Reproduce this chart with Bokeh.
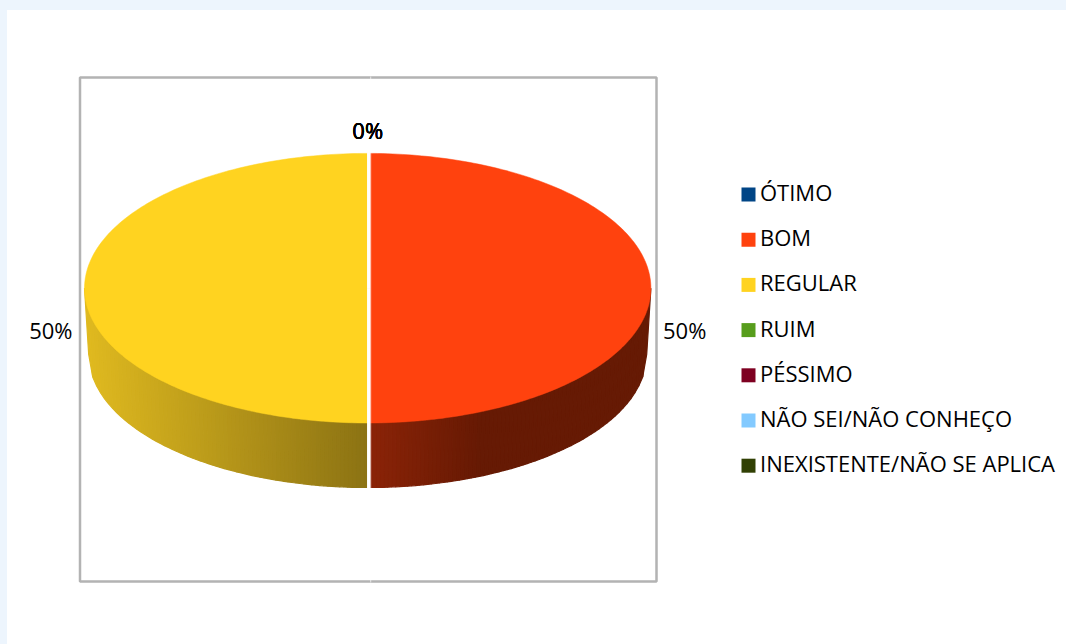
import numpy as np
from bokeh.plotting import figure
from bokeh.models import Range1d
from bokeh.core.properties import value
from bokeh.embed import file_html
from bokeh.resources import INLINE

categories = ["ÓTIMO", "BOM", "REGULAR", "RUIM", "PÉSSIMO", "NÃO SEI/NÃO CONHEÇO", "INEXISTENTE/NÃO SE APLICA"]
shares = [0, 50, 50, 0, 0, 0, 0]
colors = ["#004586", "#FF420E", "#FFD320", "#579D1C", "#7E0021", "#83CAFF", "#314004"]
# shading of the pie's side wall for the visible slices: (colour near the centre line, colour at outer side)
wall_near = {"BOM": (140, 36, 8), "REGULAR": (140, 115, 20)}
wall_far = {"BOM": (102, 26, 4), "REGULAR": (224, 186, 32)}

FONT = value("Open Sans")
LABEL_SIZE = "22px"
CX, CY, RX, RY = 367.2, 287.7, 283.2, 134.8
CY2, RX2, RY2 = 354.0, 279.0, 133.0
PAGE_BG = "#EDF5FD"
WIDTH, HEIGHT = 1066, 644

p = figure(width=WIDTH, height=HEIGHT, x_range=Range1d(0, WIDTH), y_range=Range1d(HEIGHT, 0),
           toolbar_location=None, output_backend="svg", min_border=0,
           background_fill_color=None, border_fill_color=None, outline_line_color=None)
p.axis.visible = False
p.grid.visible = False

# plot frame
p.quad(left=[79.5], right=[656], top=[77], bottom=[581], fill_color=None, line_color="#B3B3B3", line_width=2.5)

def pt(theta, cx, cy, rx, ry):
    return cx + rx * np.sin(theta), cy - ry * np.cos(theta)

total = sum(shares)
ends = np.cumsum(shares) / total * 2 * np.pi
starts = np.concatenate([[0.0], ends[:-1]])

# side wall: thin shaded strips on the front half, equal width in x
for name, a0, a1, c in zip(categories, starts, ends, colors):
    if a1 <= a0:
        continue
    lo, hi = max(a0, np.pi / 2), min(a1, 3 * np.pi / 2)
    s0, s1 = np.sin(lo), np.sin(hi)
    edges = np.arcsin(np.linspace(s0, s1, 71))
    edges = np.pi - edges
    xs, ys, fills = [], [], []
    for t0, t1 in zip(edges[:-1], edges[1:]):
        x0, y0 = pt(t0, CX, CY, RX, RY)
        x1, y1 = pt(t1, CX, CY, RX, RY)
        x2, y2 = pt(t1, CX, CY2, RX2, RY2)
        x3, y3 = pt(t0, CX, CY2, RX2, RY2)
        xs.append([x0, x1, x2, x3])
        ys.append([y0, y1, y2, y3])
        f = min(1.0, abs((x0 + x1) / 2 - CX) / RX)
        if name == "BOM":
            f = min(1.0, f / 0.4)
        rgb = [int(n + (m - n) * f) for n, m in zip(wall_near[name], wall_far[name])]
        fills.append("#%02x%02x%02x" % tuple(rgb))
    p.patches(xs, ys, fill_color=fills, line_color=fills, line_width=1.2)

# top face
for a0, a1, c in zip(starts, ends, colors):
    if a1 <= a0:
        continue
    th = np.linspace(a0, a1, 181)
    x, y = pt(th, CX, CY, RX, RY)
    p.patch(np.r_[CX, x], np.r_[CY, y], fill_color=c, line_color=c, line_width=0.5)

# white separators between slices
for a0, a1 in zip(starts, ends):
    if a1 <= a0:
        continue
    for a in (a0, a1):
        ex, ey = pt(a, CX, CY, RX, RY)
        bottom = pt(a, CX, CY2, RX2, RY2)[1] + 2 if np.cos(a) < 0 else ey - 2
        p.line([CX + 1, CX + 1], [CY, bottom], line_color="white", line_width=3)
p.line([CX + 3, CX + 3], [76, 582], line_color="white", line_width=0.8, line_alpha=0.8)

# data labels
for share, a0, a1 in zip(shares, starts, ends):
    mid = (a0 + a1) / 2
    if share == 0:
        lx, ly, anchor = CX, 129.0, "center"
    elif np.sin(mid) > 0:
        lx, ly, anchor = 662.5, 329.0, "left"
    else:
        lx, ly, anchor = 72.0, 329.0, "right"
    p.text([lx], [ly], text=[f"{share}%"], text_font=FONT, text_font_size=LABEL_SIZE,
           text_color="black", text_align=anchor, text_baseline="middle")

# legend
idx = np.arange(len(categories))
tops = 187 + idx * 45.2
p.quad(left=741, right=755, top=tops, bottom=tops + 14, fill_color=colors, line_color=None)
p.text(x=759.5, y=tops + 4.5, text=categories, text_font=FONT, text_font_size=LABEL_SIZE,
       text_color="black", text_align="left", text_baseline="middle")

html = file_html(p, INLINE)
css = ("<style>html,body{margin:0;background:"
       f"linear-gradient({PAGE_BG},{PAGE_BG}) top left/100% 10px no-repeat,"
       f"linear-gradient({PAGE_BG},{PAGE_BG}) top left/7px 100% no-repeat,#fff;"
       "overflow:hidden}</style>")
html = html.replace("</head>", css + "</head>", 1)
open("out.html", "w").write(html)
